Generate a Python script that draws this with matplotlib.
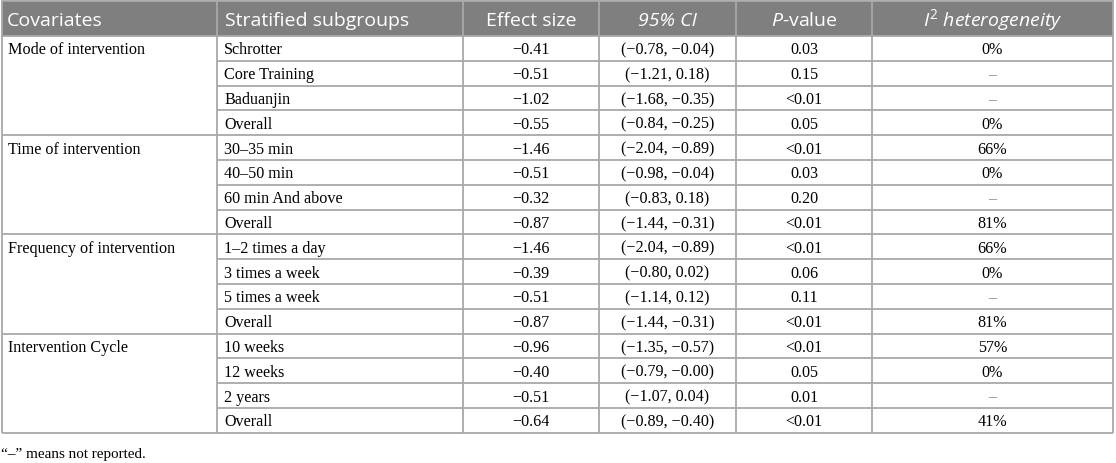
import matplotlib
matplotlib.use("Agg")
import matplotlib.pyplot as plt
from matplotlib.patches import Rectangle

plt.rcParams["mathtext.fontset"] = "custom"
plt.rcParams["mathtext.it"] = "Open Sans:italic"
plt.rcParams["mathtext.rm"] = "Open Sans"

# ---- data ----
headers = ["Covariates", "Stratified subgroups", "Effect size", "95% CI", "P-value", "I2 heterogeneity"]
covariates = ["Mode of intervention", "Time of intervention",
              "Frequency of intervention", "Intervention Cycle"]
subgroups = [
    ["Schrotter", "Core Training", "Baduanjin", "Overall"],
    ["30–35 min", "40–50 min", "60 min And above", "Overall"],
    ["1–2 times a day", "3 times a week", "5 times a week", "Overall"],
    ["10 weeks", "12 weeks", "2 years", "Overall"],
]
effect_sizes = [
    ["−0.41", "−0.51", "−1.02", "−0.55"],
    ["−1.46", "−0.51", "−0.32", "−0.87"],
    ["−1.46", "−0.39", "−0.51", "−0.87"],
    ["−0.96", "−0.40", "−0.51", "−0.64"],
]
ci_values = [
    ["(−0.78, −0.04)", "(−1.21, 0.18)", "(−1.68, −0.35)", "(−0.84, −0.25)"],
    ["(−2.04, −0.89)", "(−0.98, −0.04)", "(−0.83, 0.18)", "(−1.44, −0.31)"],
    ["(−2.04, −0.89)", "(−0.80, 0.02)", "(−1.14, 0.12)", "(−1.44, −0.31)"],
    ["(−1.35, −0.57)", "(−0.79, −0.00)", "(−1.07, 0.04)", "(−0.89, −0.40)"],
]
p_values = [
    ["0.03", "0.15", "<0.01", "0.05"],
    ["<0.01", "0.03", "0.20", "<0.01"],
    ["<0.01", "0.06", "0.11", "<0.01"],
    ["<0.01", "0.05", "0.01", "<0.01"],
]
i2_values = [
    ["0%", "–", "–", "0%"],
    ["66%", "0%", "–", "81%"],
    ["66%", "0%", "–", "81%"],
    ["57%", "0%", "–", "41%"],
]
footnote = "“–” means not reported."

# ---- layout (pixels) ----
W, H = 1116, 464
col_edges = [2, 217, 463, 599, 736, 872, 1113]
top = 2
header_h = 35
row_h = 24.8
pad = 7
line_color = "#a8a8a8"
header_color = "#7f7f7f"
lw = 1.3
serif = "Liberation Serif"
sans = "Open Sans"

fig = plt.figure(figsize=(W / 100, H / 100), dpi=100)
ax = fig.add_axes([0, 0, 1, 1])
ax.set_xlim(0, W)
ax.set_ylim(H, 0)
ax.axis("off")
renderer = fig.canvas.get_renderer()


def fit_size(text, family, target_px, style="normal"):
    t = ax.text(0, 0, text, fontsize=10, family=family, style=style)
    w = t.get_window_extent(renderer).width
    t.remove()
    return 10 * target_px / w


head_fs = fit_size(headers[1], sans, 185)
data_fs = fit_size(covariates[0], serif, 137)
foot_fs = fit_size(footnote, serif, 144)

# header
ax.add_patch(Rectangle((col_edges[0], top), col_edges[-1] - col_edges[0], header_h,
                       facecolor=header_color, edgecolor="none", zorder=1))
hy = top + header_h / 2 + 1
centers = [(col_edges[i] + col_edges[i + 1]) / 2 for i in range(len(col_edges) - 1)]
ax.text(col_edges[0] + 5, hy, headers[0], ha="left", va="center", color="white",
        fontsize=head_fs, family=sans)
ax.text(col_edges[1] + 8, hy, headers[1], ha="left", va="center", color="white",
        fontsize=head_fs, family=sans)
ax.text(centers[2], hy, headers[2], ha="center", va="center", color="white",
        fontsize=head_fs, family=sans)
ax.text(centers[3], hy, headers[3], ha="center", va="center", color="white",
        fontsize=head_fs, family=sans, style="italic")
ax.text(centers[4], hy, r"$\mathit{P}$" + "-value", ha="center", va="center", color="white",
        fontsize=head_fs, family=sans)
ax.text(centers[5], hy, r"$\mathit{I}^{2}$" + " " + "heterogeneity", ha="center", va="center",
        color="white", fontsize=head_fs, family=sans, style="italic")

# body
body_top = top + header_h
r = 0
for g, cov in enumerate(covariates):
    gy0 = body_top + r * row_h
    ax.text(col_edges[0] + 6, gy0 + row_h / 2 + 1, cov, ha="left", va="center",
            fontsize=data_fs, family=serif, color="black")
    for k in range(len(subgroups[g])):
        y0 = body_top + r * row_h
        yc = y0 + row_h / 2 + 1
        ax.text(col_edges[1] + pad, yc, subgroups[g][k], ha="left", va="center",
                fontsize=data_fs, family=serif, color="black")
        ax.text(centers[2], yc, effect_sizes[g][k], ha="center", va="center",
                fontsize=data_fs, family=serif, color="black")
        ax.text(centers[3], yc, ci_values[g][k], ha="center", va="center",
                fontsize=data_fs, family=serif, color="black")
        ax.text(centers[4], yc, p_values[g][k], ha="center", va="center",
                fontsize=data_fs, family=serif, color="black")
        ax.text(centers[5], yc, i2_values[g][k], ha="center", va="center",
                fontsize=data_fs, family=serif,
                color="#888888" if i2_values[g][k] == "–" else "black")
        r += 1
        y1 = body_top + r * row_h
        last_in_group = k == len(subgroups[g]) - 1
        x_start = col_edges[0] if last_in_group else col_edges[1]
        ax.plot([x_start, col_edges[-1]], [y1, y1], color=line_color, lw=lw, zorder=2,
                solid_capstyle="butt")

bottom = body_top + r * row_h
# outer / vertical lines
ax.plot([col_edges[0], col_edges[-1]], [top, top], color=line_color, lw=lw, zorder=2)
ax.plot([col_edges[0], col_edges[-1]], [body_top, body_top], color=line_color, lw=lw, zorder=2)
for x in col_edges:
    ax.plot([x, x], [top, bottom], color=line_color, lw=lw, zorder=2, solid_capstyle="butt")

ax.text(col_edges[0] - 1, bottom + 21, footnote, ha="left", va="center",
        fontsize=foot_fs, family=serif, color="black")

fig.savefig("out.png", dpi=100)
